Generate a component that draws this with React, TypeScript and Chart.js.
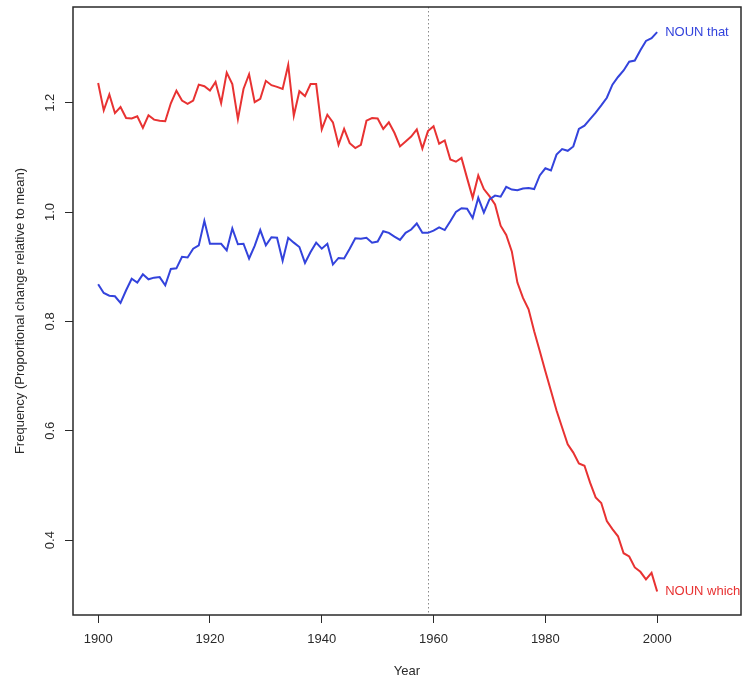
import React, { useEffect, useRef } from "react";
import { Chart, registerables } from "chart.js";

Chart.register(...registerables);

const YEARS: number[] = Array.from({ length: 101 }, (_, i) => 1900 + i);

const NOUN_WHICH: number[] = [
  1.236, 1.186, 1.215, 1.181, 1.192, 1.172, 1.171, 1.175, 1.154, 1.177,
  1.169, 1.167, 1.166, 1.199, 1.222, 1.204, 1.198, 1.204, 1.233, 1.230,
  1.222, 1.238, 1.199, 1.255, 1.234, 1.170, 1.225, 1.252, 1.201, 1.207,
  1.240, 1.232, 1.229, 1.225, 1.269, 1.176, 1.221, 1.212, 1.234, 1.234,
  1.151, 1.178, 1.164, 1.123, 1.152, 1.126, 1.117, 1.123, 1.167, 1.172,
  1.171, 1.152, 1.164, 1.145, 1.120, 1.129, 1.138, 1.151, 1.116, 1.148,
  1.157, 1.125, 1.131, 1.096, 1.092, 1.099, 1.062, 1.026, 1.067, 1.042,
  1.029, 1.014, 0.975, 0.958, 0.928, 0.871, 0.843, 0.822, 0.782, 0.746,
  0.709, 0.673, 0.637, 0.606, 0.575, 0.560, 0.540, 0.536, 0.505, 0.478,
  0.468, 0.435, 0.420, 0.407, 0.376, 0.370, 0.350, 0.342, 0.328, 0.340,
  0.306,
];

const NOUN_THAT: number[] = [
  0.868, 0.852, 0.847, 0.846, 0.834, 0.857, 0.878, 0.871, 0.886, 0.877,
  0.880, 0.881, 0.866, 0.896, 0.897, 0.918, 0.917, 0.933, 0.939, 0.984,
  0.942, 0.942, 0.942, 0.930, 0.970, 0.941, 0.942, 0.915, 0.938, 0.967,
  0.939, 0.954, 0.953, 0.911, 0.953, 0.944, 0.936, 0.907, 0.927, 0.944,
  0.933, 0.942, 0.904, 0.916, 0.915, 0.933, 0.952, 0.951, 0.953, 0.944,
  0.946, 0.965, 0.962, 0.955, 0.949, 0.962, 0.968, 0.979, 0.962, 0.962,
  0.966, 0.972, 0.967, 0.983, 1.000, 1.007, 1.006, 0.989, 1.026, 0.999,
  1.023, 1.030, 1.028, 1.046, 1.041, 1.040, 1.043, 1.044, 1.042, 1.067,
  1.080, 1.076, 1.105, 1.115, 1.112, 1.120, 1.152, 1.158, 1.170, 1.182,
  1.195, 1.209, 1.233, 1.247, 1.259, 1.275, 1.277, 1.296, 1.313, 1.318,
  1.329,
];

const SERIES_LABELS: string[] = ["NOUN that", "NOUN which"];
const X_TICKS: number[] = [1900, 1920, 1940, 1960, 1980, 2000];
const Y_TICKS: number[] = [0.4, 0.6, 0.8, 1.0, 1.2];
const MARK_YEAR = 1959;

const RED = "#e83232";
const BLUE = "#3343dc";
const AXIS = "#2a2a2a";
const FONT = "'Liberation Sans', Arial, sans-serif";

const boxPlugin = {
  id: "rbox",
  beforeDatasetsDraw(chart: any) {
    const { ctx, chartArea } = chart;
    const x = chart.scales.x.getPixelForValue(MARK_YEAR);
    ctx.save();
    ctx.strokeStyle = "#8a8a8a";
    ctx.lineWidth = 1;
    ctx.setLineDash([1.5, 2.5]);
    ctx.beginPath();
    ctx.moveTo(Math.round(x) + 0.5, chartArea.top);
    ctx.lineTo(Math.round(x) + 0.5, chartArea.bottom);
    ctx.stroke();
    ctx.restore();
  },
  afterDatasetsDraw(chart: any) {
    const { ctx, chartArea } = chart;
    ctx.save();
    ctx.font = `13px ${FONT}`;
    ctx.textAlign = "left";
    ctx.textBaseline = "middle";
    chart.data.datasets.forEach((ds: any, i: number) => {
      const meta = chart.getDatasetMeta(i);
      const last = meta.data[meta.data.length - 1];
      ctx.fillStyle = ds.borderColor;
      ctx.fillText(ds.label, last.x + 8, last.y);
    });
    ctx.strokeStyle = AXIS;
    ctx.lineWidth = 1.5;
    ctx.strokeRect(
      chartArea.left,
      chartArea.top,
      chartArea.right - chartArea.left,
      chartArea.bottom - chartArea.top
    );
    ctx.restore();
  },
};

export default function App() {
  const ref = useRef<HTMLCanvasElement | null>(null);

  useEffect(() => {
    if (!ref.current) return;
    const chart = new Chart(ref.current, {
      type: "line",
      data: {
        datasets: [
          {
            label: SERIES_LABELS[0],
            data: YEARS.map((y, i) => ({ x: y, y: NOUN_THAT[i] })),
            borderColor: BLUE,
            borderWidth: 2,
            pointRadius: 0,
            tension: 0,
            fill: false,
          },
          {
            label: SERIES_LABELS[1],
            data: YEARS.map((y, i) => ({ x: y, y: NOUN_WHICH[i] })),
            borderColor: RED,
            borderWidth: 2,
            pointRadius: 0,
            tension: 0,
            fill: false,
          },
        ],
      },
      options: {
        animation: false,
        responsive: false,
        devicePixelRatio: 1,
        layout: { padding: { top: 7, right: 3, left: 0, bottom: 0 } },
        plugins: {
          legend: { display: false },
          tooltip: { enabled: false },
        },
        scales: {
          x: {
            type: "linear",
            min: 1895.5,
            max: 2015,
            afterBuildTicks: (s: any) => {
              s.ticks = X_TICKS.map((v) => ({ value: v }));
            },
            afterFit: (s: any) => {
              s.height = 64;
              s.paddingLeft = 0;
              s.paddingRight = 0;
            },
            border: { display: false },
            grid: {
              drawOnChartArea: false,
              drawTicks: true,
              tickLength: 8,
              tickColor: AXIS,
              tickWidth: 1,
            },
            ticks: {
              font: { family: FONT, size: 13 },
              color: AXIS,
              padding: 9,
              maxRotation: 0,
              minRotation: 0,
              callback: (v: any) => String(v),
            },
            title: {
              display: true,
              text: "Year",
              font: { family: FONT, size: 13, lineHeight: 1.2 },
              color: AXIS,
              padding: { top: 0, bottom: 0 },
            },
          },
          y: {
            type: "linear",
            min: 0.263,
            max: 1.375,
            afterBuildTicks: (s: any) => {
              s.ticks = Y_TICKS.map((v) => ({ value: v }));
            },
            afterFit: (s: any) => {
              s.width = 73;
              s.paddingTop = 0;
              s.paddingBottom = 0;
            },
            border: { display: false },
            grid: {
              drawOnChartArea: false,
              drawTicks: true,
              tickLength: 8,
              tickColor: AXIS,
              tickWidth: 1,
            },
            ticks: {
              font: { family: FONT, size: 13 },
              color: AXIS,
              padding: 6,
              minRotation: 90,
              maxRotation: 90,
              crossAlign: "center",
              callback: (v: any) => Number(v).toFixed(1),
            },
            title: {
              display: true,
              text: "Frequency (Proportional change relative to mean)",
              font: { family: FONT, size: 13, lineHeight: 1.2 },
              color: AXIS,
              padding: { top: 13, bottom: 0 },
            },
          },
        },
      },
      plugins: [boxPlugin],
    });
    return () => chart.destroy();
  }, []);

  return (
    <div style={{ position: "absolute", left: 0, top: 0, width: 744, height: 679, background: "#fff" }}>
      <canvas ref={ref} width={744} height={679} style={{ display: "block" }} />
    </div>
  );
}
